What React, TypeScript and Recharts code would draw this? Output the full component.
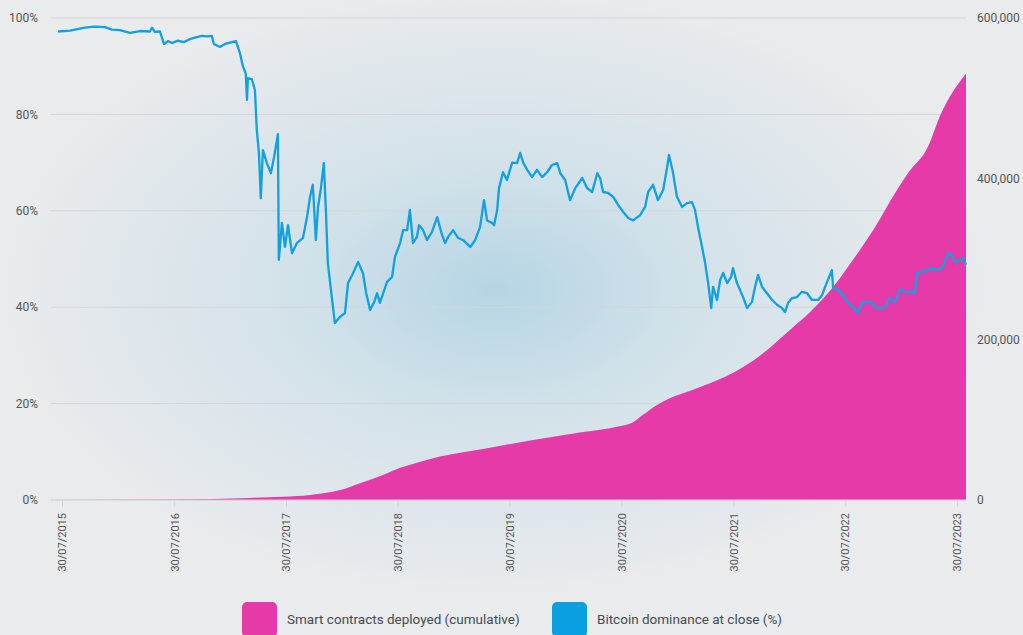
import React from 'react';
import {
  ComposedChart,
  Area,
  Line,
  XAxis,
  YAxis,
  CartesianGrid,
} from 'recharts';

// x values are days since 30/07/2015
const tickDays = [0, 366, 731, 1096, 1461, 1827, 2192, 2557, 2922];
const tickLabels = [
  '30/07/2015', '30/07/2016', '30/07/2017', '30/07/2018', '30/07/2019',
  '30/07/2020', '30/07/2021', '30/07/2022', '30/07/2023',
];

const dominanceDays = [
  -15, 24, 73, 105, 138, 161, 187, 220, 252, 285, 292, 301, 318, 331, 344, 357, 376, 396, 415, 435,
  454, 474, 487, 494, 514, 533, 553, 566, 579, 589, 598, 602, 605, 618, 628, 634, 641, 647, 654, 667,
  680, 690, 703, 706, 716, 726, 736, 749, 765, 785, 798, 808, 817, 827, 834, 843, 853, 860, 866, 879,
  889, 906, 922, 932, 948, 965, 981, 991, 1004, 1017, 1027, 1036, 1050, 1059, 1076, 1085, 1102, 1112, 1125, 1134,
  1144, 1157, 1164, 1177, 1190, 1206, 1223, 1239, 1249, 1259, 1275, 1291, 1308, 1331, 1347, 1363, 1376, 1386, 1402, 1409,
  1419, 1425, 1438, 1451, 1468, 1484, 1494, 1504, 1517, 1533, 1549, 1566, 1582, 1598, 1615, 1625, 1641, 1657, 1674, 1697,
  1713, 1729, 1746, 1755, 1765, 1781, 1798, 1814, 1830, 1847, 1863, 1886, 1902, 1912, 1928, 1944, 1961, 1974, 1980, 1993,
  2006, 2023, 2039, 2055, 2065, 2075, 2088, 2098, 2108, 2118, 2124, 2137, 2147, 2157, 2170, 2183, 2189, 2202, 2212, 2222,
  2235, 2251, 2261, 2271, 2284, 2300, 2317, 2333, 2349, 2359, 2369, 2382, 2398, 2414, 2431, 2447, 2467, 2480, 2490, 2503,
  2512, 2516, 2532, 2548, 2565, 2581, 2597, 2610, 2627, 2643, 2659, 2676, 2685, 2702, 2718, 2734, 2751, 2767, 2783, 2790,
  2806, 2822, 2839, 2855, 2871, 2881, 2891, 2904, 2914, 2930, 2940, 2950,
];
const dominancePct = [
  97.2, 97.4, 98.0, 98.2, 98.1, 97.6, 97.5, 96.9, 97.3, 97.2, 98.0, 97.1, 97.2, 94.6, 95.2, 94.8, 95.3, 95.0, 95.6, 96.0,
  96.3, 96.2, 96.3, 94.6, 94.0, 94.7, 95.0, 95.2, 92.7, 89.9, 88.5, 83.0, 87.5, 87.3, 85.0, 76.8, 72.0, 62.6, 72.6, 69.9,
  67.8, 71.0, 75.9, 49.8, 57.5, 52.5, 57.0, 51.2, 53.3, 54.4, 58.7, 62.9, 65.4, 53.9, 60.8, 64.5, 69.9, 59.5, 49.2, 42.1,
  36.7, 38.0, 38.8, 45.0, 47.0, 49.4, 47.0, 43.0, 39.4, 41.0, 42.9, 40.9, 43.5, 45.2, 46.3, 50.4, 53.3, 56.0, 56.0, 60.2,
  53.3, 54.6, 57.0, 56.0, 53.9, 55.6, 58.7, 55.0, 53.3, 54.6, 56.0, 54.4, 53.9, 52.5, 53.9, 56.6, 62.2, 58.0, 57.5, 57.0,
  60.2, 64.7, 68.0, 66.4, 70.0, 69.9, 72.0, 70.0, 68.5, 67.0, 68.5, 67.0, 68.0, 69.5, 69.9, 67.8, 66.4, 62.2, 64.7, 66.8,
  64.7, 63.9, 67.8, 66.8, 63.9, 63.7, 62.9, 61.2, 59.8, 58.5, 58.0, 59.1, 60.8, 63.9, 65.4, 62.2, 64.3, 69.0, 71.6, 68.0,
  62.9, 60.8, 61.6, 61.8, 60.2, 56.6, 52.5, 49.2, 45.0, 39.8, 44.2, 41.5, 45.6, 47.1, 45.0, 46.3, 48.1, 45.0, 43.6, 42.1,
  39.8, 41.1, 44.2, 46.7, 44.2, 42.9, 41.5, 40.5, 39.8, 39.0, 40.9, 41.9, 42.1, 43.2, 42.9, 41.5, 41.5, 42.5, 44.2, 46.3,
  47.7, 44.0, 43.6, 42.5, 40.9, 40.0, 38.8, 40.9, 41.1, 40.9, 39.8, 39.8, 40.0, 41.9, 41.1, 43.6, 43.2, 43.2, 42.9, 47.1,
  47.3, 47.7, 48.1, 47.7, 48.1, 49.4, 51.2, 50.8, 49.4, 49.8, 50.2, 48.8,
];

const contractDays = [
  -15, 367, 612, 720, 808, 906, 971, 1046, 1102, 1157, 1232, 1373, 1536, 1699, 1810, 1860, 1895, 1941, 1984, 2026,
  2082, 2193, 2278, 2376, 2441, 2516, 2581, 2647, 2718, 2761, 2826, 2866, 2950,
];
const contractCount = [
  0, 500, 2500, 4000, 6200, 12400, 21000, 31000, 40000, 46400, 54000, 63500, 74700, 84600, 91300, 96300, 106000, 118400, 127000, 133000,
  140700, 159000, 180000, 212000, 234000, 265000, 299000, 336000, 382000, 407000, 440000, 479000, 531000,
];

const rows = new Map<number, { day: number; dominance?: number; contracts?: number }>();
dominanceDays.forEach((d, i) => {
  rows.set(d, { ...(rows.get(d) || { day: d }), dominance: dominancePct[i] });
});
contractDays.forEach((d, i) => {
  rows.set(d, { ...(rows.get(d) || { day: d }), contracts: contractCount[i] });
});
const data = Array.from(rows.values()).sort((a, b) => a.day - b.day);

const PINK = '#e63aa9';
const BLUE = '#11a0e0';
const FONT = 'Roboto, sans-serif';

const XTick = (props: any) => {
  const { x, y, payload } = props;
  const idx = tickDays.indexOf(payload.value);
  return (
    <text
      x={x}
      y={y}
      transform={`rotate(-90, ${x}, ${y})`}
      textAnchor="end"
      dy="0.35em"
      fill="#555"
      fontSize={11}
      fontFamily={FONT}
    >
      {tickLabels[idx]}
    </text>
  );
};

const LegendItem = ({ left, color, label }: { left: number; color: string; label: string }) => (
  <div style={{ position: 'absolute', left, top: 602, display: 'flex', alignItems: 'flex-start' }}>
    <div style={{ width: 35, height: 35, borderRadius: 5, background: color }} />
    <span style={{ marginLeft: 10, marginTop: 9, fontSize: 13.5, color: '#454b52', fontFamily: FONT, whiteSpace: 'nowrap' }}>
      {label}
    </span>
  </div>
);

export default function App() {
  return (
    <div
      style={{
        position: 'absolute',
        left: 0,
        top: 0,
        width: 1023,
        height: 635,
        overflow: 'hidden',
        background:
          'radial-gradient(ellipse 500px 310px at 495px 290px, rgba(176,211,228,0.9) 0%, rgba(198,221,232,0.65) 40%, rgba(234,235,237,0) 100%), #eaebed',
      }}
    >
      <ComposedChart
        width={1023}
        height={635}
        data={data}
        margin={{ top: 18, right: 0, left: 0, bottom: 0 }}
      >
        <CartesianGrid yAxisId="left" vertical={false} stroke="#d3d6da" />
        <XAxis
          dataKey="day"
          type="number"
          domain={[-38, 2950]}
          ticks={tickDays}
          interval={0}
          height={135}
          tick={<XTick />}
          tickSize={7}
          tickMargin={6}
          tickLine={{ stroke: '#d3d6da' }}
          axisLine={{ stroke: '#d3d6da' }}
        />
        <YAxis
          yAxisId="left"
          orientation="left"
          width={51}
          domain={[0, 100]}
          ticks={[0, 20, 40, 60, 80, 100]}
          tickFormatter={(v: number) => `${v}%`}
          tickSize={0}
          tickMargin={13}
          axisLine={false}
          tickLine={false}
          tick={{ fill: '#555', fontSize: 12, fontFamily: FONT }}
        />
        <YAxis
          yAxisId="right"
          orientation="right"
          width={57}
          domain={[0, 600000]}
          ticks={[0, 200000, 400000, 600000]}
          tickFormatter={(v: number) => v.toLocaleString('en-US')}
          tickSize={0}
          tickMargin={11}
          axisLine={false}
          tickLine={false}
          tick={{ fill: '#555', fontSize: 12, fontFamily: FONT, textAnchor: 'start' }}
        />
        <Area
          yAxisId="right"
          type="monotone"
          dataKey="contracts"
          fill={PINK}
          fillOpacity={1}
          stroke="none"
          connectNulls
          isAnimationActive={false}
        />
        <Line
          yAxisId="left"
          type="linear"
          dataKey="dominance"
          stroke={BLUE}
          strokeWidth={2.3}
          strokeLinejoin="round"
          dot={false}
          connectNulls
          isAnimationActive={false}
        />
      </ComposedChart>
      <LegendItem left={242} color={PINK} label="Smart contracts deployed (cumulative)" />
      <LegendItem left={552} color="#0a9fe0" label="Bitcoin dominance at close (%)" />
    </div>
  );
}
